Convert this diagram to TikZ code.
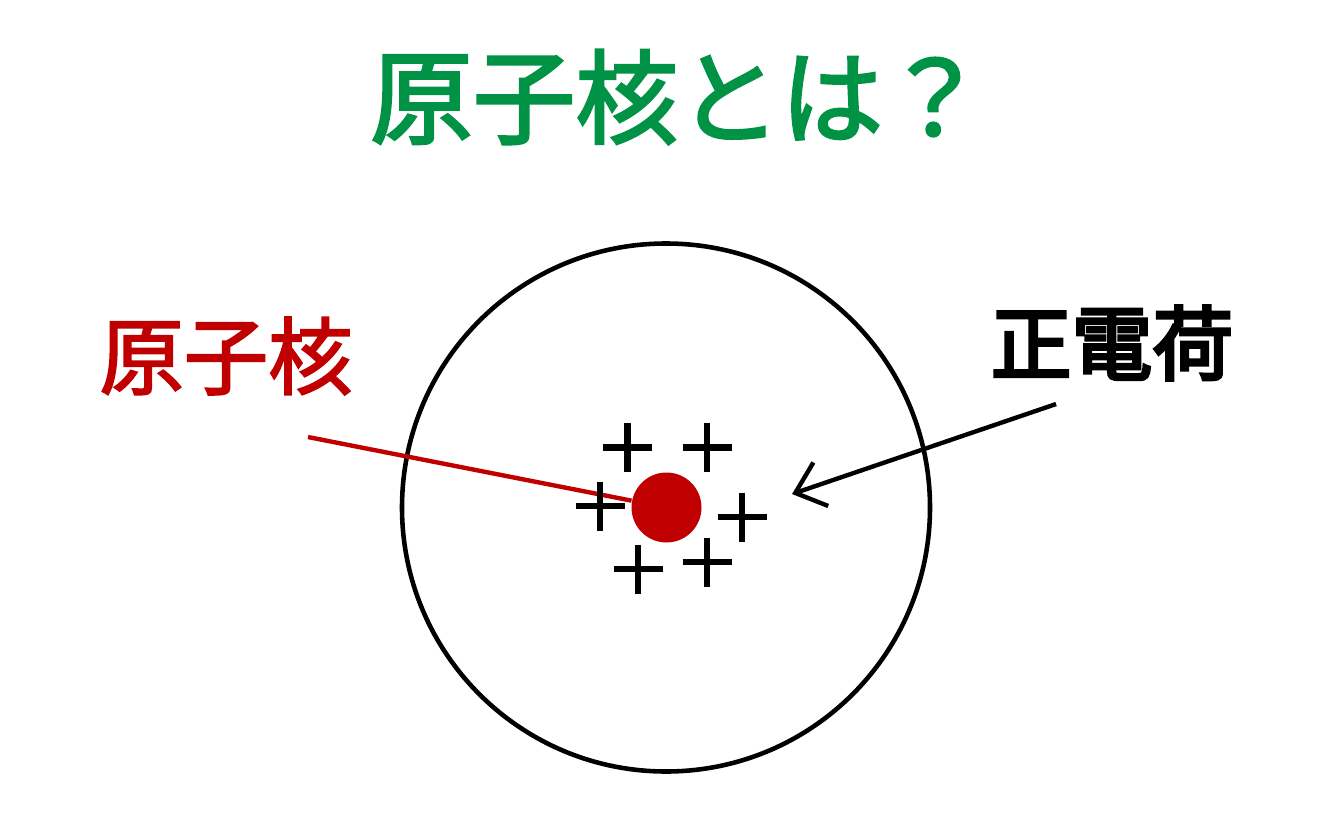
\documentclass[tikz,border=0pt]{standalone}
\usepackage{fontspec}
\usepackage{tikz}
\usetikzlibrary{arrows.meta}
\newfontfamily\cjktitle{Noto Sans CJK JP}[FakeBold=2.5]
\newfontfamily\cjklabel{Noto Sans CJK JP}[FakeBold=2.2]
\newfontfamily\cjkbold{Noto Sans CJK JP}[FakeBold=4]
\definecolor{titlegreen}{RGB}{0,146,69}
\definecolor{nucleusred}{RGB}{192,0,0}

\begin{document}
\begin{tikzpicture}[scale=0.1]
\tikzset{every node/.append style={inner sep=0pt},
  chargemark/.style={black,line width=1.9pt},
  pointer/.style={line width=1.25pt}}
\useasboundingbox (0,0) rectangle (133.3,-83.3);
\node (title) at (67.8,-9.7) {\cjktitle\fontsize{29.2pt}{30pt}\selectfont\color{titlegreen}原子核とは？};
\draw [black,line width=1.3pt] (66.6,-50.75) circle (26.4);
\node (nucleus) [circle,fill=nucleusred,minimum size=7mm] at (66.65,-50.75) {};
\node (nucleuslabel) at (22.6,-35.6) {\cjklabel\fontsize{24pt}{24pt}\selectfont\color{nucleusred}原子核};
\coordinate (nucleustail) at (30.8,-43.7);
\draw [pointer,nucleusred] (nucleustail) -- (nucleus);
\draw [chargemark] (62.75,-44.75) ++(0,2.45) -- ++(0,-4.9) ++(-2.45,2.45) -- ++(4.9,0);
\draw [chargemark] (70.7,-44.75) ++(0,2.45) -- ++(0,-4.9) ++(-2.45,2.45) -- ++(4.9,0);
\draw [chargemark] (60.0,-50.6) ++(0,2.45) -- ++(0,-4.9) ++(-2.45,2.45) -- ++(4.9,0);
\draw [chargemark] (74.2,-51.7) ++(0,2.45) -- ++(0,-4.9) ++(-2.45,2.45) -- ++(4.9,0);
\draw [chargemark] (63.8,-56.9) ++(0,2.45) -- ++(0,-4.9) ++(-2.45,2.45) -- ++(4.9,0);
\draw [chargemark] (70.7,-56.2) ++(0,2.45) -- ++(0,-4.9) ++(-2.45,2.45) -- ++(4.9,0);
\node (chargelabel) at (111.2,-34.3) {\cjkbold\fontsize{23pt}{23pt}\selectfont 正電荷};
\coordinate (chargetail) at (105.6,-40.4);
\coordinate (chargetip) at (79.2,-49.4);
\draw [pointer,-{Straight Barb[length=2.7mm,width=4.6mm]}] (chargetail) -- (chargetip);
\end{tikzpicture}
\end{document}
